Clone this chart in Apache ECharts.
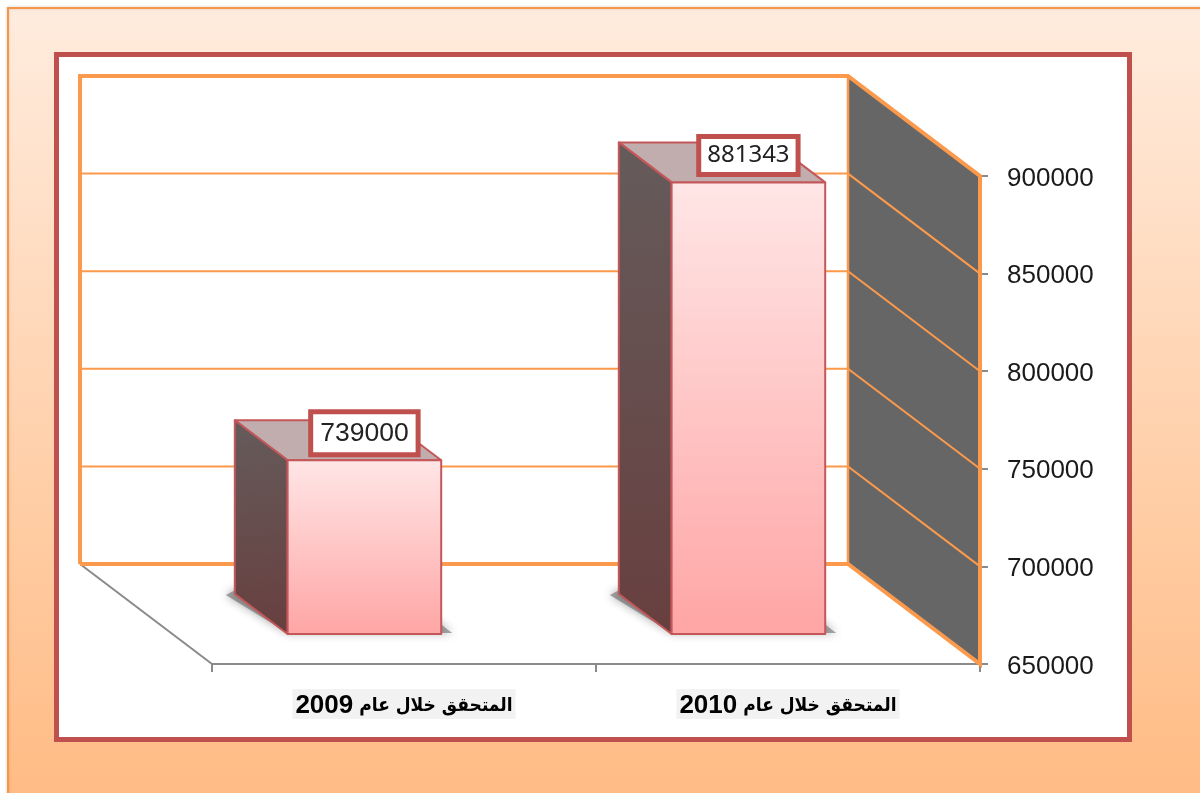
<!DOCTYPE html>
<html><head><meta charset="utf-8">
<style>html,body{margin:0;padding:0;background:#fff}#c{width:1200px;height:793px}</style>
<script src="https://cdn.jsdelivr.net/npm/echarts@6/dist/echarts.min.js"></script>
</head><body><div id="c"></div>
<script>
const categories = ['المتحقق خلال عام 2009', 'المتحقق خلال عام 2010'];
const values = [739000, 881343];
const tickValues = [650000, 700000, 750000, 800000, 850000, 900000];

const ORANGE = '#fb9a4c', RED = '#c0504d', GREY = '#8a8a8a';
const DX = 132, DY = 100;                // projection of full chart depth
const NEAR = 0.3, FAR = 0.7;             // bar front / back depth fractions
const proj = (p, d) => [p[0] - DX * d, p[1] - DY * d];
const grad = (a, b) => ({type:'linear',x:0,y:0,x2:0,y2:1,colorStops:[{offset:0,color:a},{offset:1,color:b}]});

function wallItem(params, api) {
  const g = params.coordSys, L = g.x, R = g.x + g.width, B = g.y + g.height, T = g.y;
  const kids = [];
  const bl = proj([L,B],1), br = proj([R,B],1), tl = proj([L,T],1), tr = proj([R,T],1);
  if (params.dataIndex === 0) {
    kids.push({type:'polygon',shape:{points:[tr,[R,T],[R,B],br]},style:{fill:'#666666',stroke:null}});
    kids.push({type:'line',shape:{x1:bl[0],y1:bl[1],x2:L,y2:B},style:{stroke:GREY,lineWidth:2}});
    kids.push({type:'polyline',shape:{points:[bl,tl,tr,[R,T],[R,B],br,bl]},style:{fill:null,stroke:ORANGE,lineWidth:4,lineJoin:'miter'}});
    kids.push({type:'line',shape:{x1:tr[0],y1:tr[1],x2:br[0],y2:br[1]},style:{stroke:ORANGE,lineWidth:2.5}});
  }
  const v = api.value(0);
  if (v !== tickValues[0] && v !== tickValues[tickValues.length-1]) {
    const y = api.coord([0, v])[1], a = proj([L,y],1), b = proj([R,y],1);
    kids.push({type:'polyline',shape:{points:[a,b,[R,y]]},style:{fill:null,stroke:ORANGE,lineWidth:2}});
  }
  return {type:'group',children:kids};
}

function barItem(params, api) {
  const c = api.coord([api.value(0), api.value(1)]);
  const base = api.coord([api.value(0), tickValues[0]]);
  const w = api.size([1,0])[0] * 0.4;
  const l = c[0] - w/2, r = c[0] + w/2;
  const fTL = proj([l,c[1]],NEAR), fTR = proj([r,c[1]],NEAR), fBL = proj([l,base[1]],NEAR), fBR = proj([r,base[1]],NEAR);
  const bTL = proj([l,c[1]],FAR), bTR = proj([r,c[1]],FAR), bBL = proj([l,base[1]],FAR);
  const edge = {stroke:'#c4575a',lineWidth:2,lineJoin:'round'};
  const labelCx = (fTL[0]+fTR[0])/2, labelCy = fTL[1]-27;
  const first = params.dataIndex === 0;
  return {type:'group',children:[
    {type:'polygon',shape:{points:[[bBL[0]-9,bBL[1]+1],[fBL[0],fBL[1]-1],[fBR[0]+11,fBR[1]-1],[fBR[0]-6,fBR[1]-14],[bBL[0]+8,bBL[1]-8]]},
      style:{fill:'rgba(70,70,70,0.45)',shadowBlur:10,shadowColor:'rgba(50,50,50,0.95)'}},
    {type:'polygon',shape:{points:[bTL,bTR,fTR,fTL]},style:Object.assign({fill:'#c1adad'},edge)},
    {type:'polygon',shape:{points:[bTL,fTL,fBL,bBL]},style:Object.assign({fill:{type:'linear',x:0,y:0,x2:0.3,y2:1,colorStops:[{offset:0,color:'#655b5b'},{offset:1,color:'#683f3f'}]}},edge)},
    {type:'polygon',shape:{points:[fTL,fTR,fBR,fBL]},style:Object.assign({fill:grad('#ffe6e6','#ffa5a5')},edge)},
    {type:'text',x:labelCx,y:labelCy,style:{
      text:String(api.value(1)),
      font:first?'26.5px "Liberation Sans"':'24px "Noto Sans"',
      fill:'#222',align:'center',verticalAlign:'middle',
      backgroundColor:'#fff',borderColor:RED,borderWidth:5,borderRadius:0,
      padding:first?[6,7,5,7]:[5,6,4,6]}}
  ]};
}

const chart = echarts.init(document.getElementById('c'), null, {renderer:'canvas'});
chart.setOption({
  animation:false,
  backgroundColor:'#ffffff',
  graphic:{elements:[
    {type:'rect',z:-10,shape:{x:8,y:8,width:1210,height:805},
      style:{fill:grad('#ffecde','#ffba82'),stroke:'#f79646',lineWidth:2,shadowBlur:3,shadowColor:'rgba(0,0,0,0.15)'}},
    {type:'rect',z:-9,shape:{x:56.5,y:54.5,width:1073,height:685},
      style:{fill:'#ffffff',stroke:RED,lineWidth:5}}
  ]},
  grid:{left:212,top:176,width:768,height:488,containLabel:false},
  xAxis:{type:'category',data:categories,
    axisLine:{lineStyle:{color:GREY,width:2}},
    axisTick:{show:true,length:8,lineStyle:{color:GREY,width:2}},
    axisLabel:{margin:25,color:'#000',
      backgroundColor:'#f2f2f2',padding:[4,3,0,3],
      formatter:(s)=>{const m=s.match(/^(.*) (\d+)$/);return '{n|'+m[2]+'}{a| '+m[1]+'}';},
      rich:{
        n:{fontFamily:'"Liberation Sans"',fontWeight:'bold',fontSize:26,color:'#000',lineHeight:26},
        a:{fontFamily:'"DejaVu Sans Condensed","DejaVu Sans"',fontWeight:'bold',fontSize:19,color:'#000',lineHeight:26}
      }},
    splitLine:{show:false}},
  yAxis:{type:'value',position:'right',min:tickValues[0],max:tickValues[tickValues.length-1],interval:tickValues[1]-tickValues[0],
    axisLine:{show:false},
    axisTick:{show:true,length:8,lineStyle:{color:GREY,width:2}},
    axisLabel:{margin:27,formatter:v=>'{t|'+v+'}',
      rich:{t:{color:'#1a1a1a',fontFamily:'"Liberation Sans"',fontSize:26,lineHeight:26,padding:[5,0,0,0]}}},
    splitLine:{show:false}},
  series:[
    {type:'custom',z:2,clip:false,silent:true,renderItem:wallItem,data:tickValues.map(v=>[v]),encode:{y:0}},
    {type:'custom',z:3,clip:false,silent:true,renderItem:barItem,data:values.map((v,i)=>[i,v]),encode:{x:0,y:1}}
  ]
});
</script></body></html>
